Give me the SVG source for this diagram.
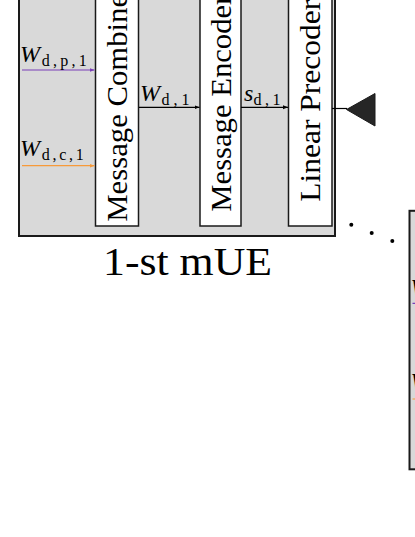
<svg xmlns="http://www.w3.org/2000/svg" width="415" height="537" viewBox="0 0 415 537">
<defs>
<style>
.frame{fill:#d9d9d9;stroke:#1a1a1a;stroke-width:2}
.blk{fill:#ffffff;stroke:#1a1a1a;stroke-width:1.5}
.lbl{font-family:"Liberation Serif","DejaVu Serif",serif;fill:#000}
.it{font-style:italic}
.c{fill:none;stroke-width:1.2}
.k{stroke:#000}
.p{stroke:#7b3fb8}
.o{stroke:#f79a3a}
</style>
<marker id="ak" markerUnits="userSpaceOnUse" markerWidth="6" markerHeight="5" refX="5" refY="2.5" orient="auto"><path d="M0,0.5 L5,2.5 L0,4.5 z" fill="#000"/></marker>
<marker id="ap" markerUnits="userSpaceOnUse" markerWidth="6" markerHeight="5" refX="5" refY="2.5" orient="auto"><path d="M0,0.5 L5,2.5 L0,4.5 z" fill="#7b3fb8"/></marker>
<marker id="ao" markerUnits="userSpaceOnUse" markerWidth="6" markerHeight="5" refX="5" refY="2.5" orient="auto"><path d="M0,0.5 L5,2.5 L0,4.5 z" fill="#f79a3a"/></marker>
</defs>

<g id="mue1">
<rect class="frame" x="19" y="-22.5" width="316" height="258.5"/>
<text class="lbl" x="187.5" y="275" font-size="40" text-anchor="middle" textLength="169" lengthAdjust="spacingAndGlyphs">1-st mUE</text>
</g>

<g id="combiner">
<rect class="blk" x="95.5" y="-12" width="43" height="238"/>
<text class="lbl" transform="translate(126.5,221.7) rotate(-90)" font-size="30" textLength="238" lengthAdjust="spacingAndGlyphs">Message Combiner</text>
</g>

<g id="encoder">
<rect class="blk" x="200" y="-12" width="41" height="238"/>
<text class="lbl" transform="translate(230.5,211.7) rotate(-90)" font-size="30" textLength="217" lengthAdjust="spacingAndGlyphs">Message Encoder</text>
</g>

<g id="precoder">
<rect class="blk" x="288.5" y="-12" width="43.5" height="238"/>
<text class="lbl" transform="translate(320.3,201.7) rotate(-90)" font-size="30" textLength="202" lengthAdjust="spacingAndGlyphs">Linear Precoder</text>
</g>

<g id="antenna">
<path d="M346.5,109.5 L375,93.5 L375,126 z" fill="#262626" stroke="#1a1a1a" stroke-width="1"/>
</g>

<g id="connectors">
<line class="c p" x1="22" y1="70" x2="94.5" y2="70" marker-end="url(#ap)"/>
<line class="c o" x1="22" y1="165.7" x2="94.5" y2="165.7" marker-end="url(#ao)"/>
<line class="c k" x1="139" y1="107.3" x2="199.5" y2="107.3" marker-end="url(#ak)"/>
<line class="c k" x1="241" y1="107.3" x2="288" y2="107.3" marker-end="url(#ak)"/>
<line class="c k" x1="332" y1="108.5" x2="347" y2="108.5"/>
</g>

<g id="labels">
<text class="lbl" x="20" y="61.5" font-size="24"><tspan class="it">W</tspan></text>
<text class="lbl" x="41.7" y="66" font-size="16" textLength="45" lengthAdjust="spacing">d,p,1</text>
<text class="lbl" x="20" y="155.5" font-size="24"><tspan class="it">W</tspan></text>
<text class="lbl" x="41.7" y="160" font-size="16" textLength="42" lengthAdjust="spacing">d,c,1</text>
<text class="lbl" x="140" y="100.5" font-size="24"><tspan class="it">W</tspan></text>
<text class="lbl" x="161.5" y="104.5" font-size="16" textLength="28" lengthAdjust="spacing">d,1</text>
<text class="lbl" x="244" y="100.5" font-size="24"><tspan class="it">s</tspan></text>
<text class="lbl" x="253.5" y="104.5" font-size="16" textLength="27" lengthAdjust="spacing">d,1</text>
</g>

<g id="dots" fill="#000">
<circle cx="351.3" cy="224.7" r="2"/>
<circle cx="371.7" cy="233" r="2"/>
<circle cx="392.3" cy="241" r="2"/>
</g>

<g id="mue2" transform="translate(390.5,233.3)">
<rect class="frame" x="19" y="-22.5" width="316" height="258.5"/>
<text class="lbl" x="20" y="61.5" font-size="24"><tspan class="it">W</tspan></text>
<line class="c p" x1="22" y1="70" x2="94.5" y2="70"/>
<text class="lbl" x="20" y="155.5" font-size="24"><tspan class="it">W</tspan></text>
<line class="c o" x1="22" y1="165.7" x2="94.5" y2="165.7"/>
</g>
</svg>
